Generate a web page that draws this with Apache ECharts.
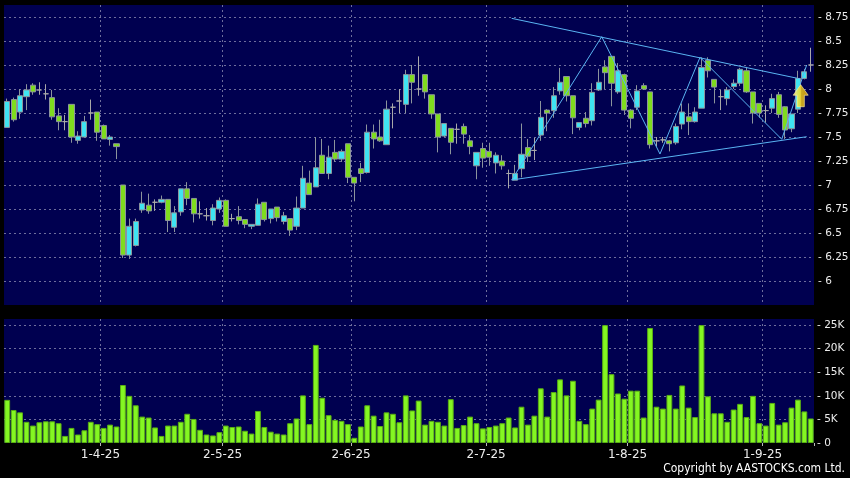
<!DOCTYPE html>
<html>
<head>
<meta charset="utf-8">
<script src="https://cdn.jsdelivr.net/npm/echarts@6.0.0/dist/echarts.min.js"></script>
<style>
html,body{margin:0;padding:0;background:#000;}
#c{width:850px;height:478px;}
</style>
</head>
<body>
<div id="c"></div>
<script>
// ---- trading calendar (HK) ----
const firstTradingDay = '2025-03-11';
const tradingDayCount = 126;
const holidays = ['2025-04-04','2025-04-18','2025-04-21','2025-05-01','2025-05-05','2025-07-01'];

// ---- price data (per trading day) ----
const opens = [
 7.60,7.89,7.76,7.92,8.04,7.99,7.95,7.91,7.72,7.66,
 7.84,7.465,7.50,7.75,7.76,7.62,7.475,7.43,7.00,6.27,
 6.37,6.74,6.79,6.82,6.82,6.85,6.56,6.72,6.96,6.86,
 6.70,6.68,6.63,6.75,6.84,6.65,6.67,6.64,6.57,6.58,
 6.82,6.65,6.77,6.62,6.65,6.57,6.76,7.02,6.98,7.31,
 7.12,7.34,7.27,7.43,7.08,7.17,7.13,7.55,7.50,7.42,
 7.81,7.875,7.84,8.15,8.00,8.15,7.94,7.74,7.51,7.59,
 7.58,7.61,7.46,7.20,7.38,7.35,7.23,7.25,7.12,7.05,
 7.17,7.39,7.36,7.52,7.78,7.775,7.98,8.13,7.93,7.60,
 7.695,7.67,7.99,8.23,8.34,7.97,8.15,7.78,7.81,8.035,
 7.97,7.46,7.47,7.46,7.44,7.635,7.71,7.66,7.80,8.30,
 8.10,7.92,7.90,8.025,8.06,8.19,7.97,7.85,7.775,7.80,
 7.94,7.815,7.586,7.79,8.11,8.25
];
const closes = [
 7.87,7.68,7.93,7.99,7.97,7.99,7.95,7.71,7.66,7.66,
 7.50,7.51,7.66,7.75,7.55,7.48,7.50,7.40,6.27,6.57,
 6.62,6.81,6.73,6.82,6.85,6.63,6.71,6.96,6.86,6.70,
 6.70,6.68,6.76,6.84,6.57,6.65,6.63,6.59,6.59,6.80,
 6.64,6.75,6.66,6.68,6.53,6.76,7.07,6.90,7.18,7.12,
 7.29,7.27,7.35,7.08,7.02,7.12,7.55,7.48,7.46,7.79,
 7.81,7.875,8.15,8.07,8.00,7.97,7.74,7.50,7.64,7.445,
 7.58,7.53,7.40,7.34,7.28,7.29,7.31,7.20,7.12,7.12,
 7.32,7.30,7.36,7.705,7.75,7.93,8.07,7.93,7.70,7.65,
 7.64,7.965,8.07,8.17,8.06,8.19,7.78,7.695,7.98,8.00,
 7.42,7.46,7.47,7.43,7.61,7.76,7.66,7.76,8.225,8.19,
 8.02,7.92,7.99,8.06,8.205,7.97,7.75,7.75,7.775,7.90,
 7.735,7.573,7.74,8.11,8.18,8.25
];
const lows = [
 7.60,7.66,7.69,7.78,7.94,7.94,7.89,7.68,7.57,7.57,
 7.44,7.43,7.50,7.68,7.46,7.48,7.41,7.27,6.24,6.23,
 6.36,6.71,6.70,6.73,6.81,6.51,6.51,6.68,6.79,6.61,
 6.65,6.63,6.58,6.71,6.57,6.62,6.59,6.55,6.54,6.58,
 6.62,6.60,6.62,6.59,6.47,6.53,6.76,6.90,6.98,7.12,
 7.06,7.24,7.24,7.02,6.83,7.03,7.12,7.38,7.45,7.42,
 7.59,7.75,7.75,7.85,7.93,7.90,7.69,7.34,7.50,7.32,
 7.43,7.43,7.32,7.06,7.18,7.20,7.12,7.16,6.965,7.05,
 7.08,7.24,7.26,7.46,7.56,7.70,7.94,7.87,7.53,7.57,
 7.60,7.62,7.98,8.00,7.82,7.95,7.73,7.59,7.78,7.99,
 7.38,7.40,7.44,7.35,7.42,7.58,7.52,7.65,7.80,8.12,
 7.85,7.78,7.83,8.00,8.03,7.96,7.64,7.70,7.65,7.75,
 7.70,7.48,7.55,7.75,8.10,8.18
];
const highs = [
 7.90,7.91,8.00,8.05,8.06,8.07,8.05,7.99,7.80,7.73,
 7.84,7.56,7.72,7.89,7.76,7.63,7.52,7.43,7.00,6.65,
 6.65,6.93,6.91,6.85,6.89,6.85,6.78,6.96,7.03,6.86,
 6.83,6.76,6.80,6.87,6.85,6.70,6.78,6.64,6.59,6.86,
 6.82,6.75,6.77,6.72,6.65,6.88,7.20,7.15,7.50,7.48,
 7.41,7.47,7.37,7.43,7.08,7.23,7.63,7.63,7.68,7.88,
 7.85,8.00,8.20,8.25,8.34,8.15,7.94,7.74,7.64,7.59,
 7.64,7.64,7.52,7.34,7.44,7.44,7.34,7.31,7.16,7.21,
 7.64,7.48,7.49,7.875,7.79,8.02,8.22,8.13,7.93,7.65,
 7.76,8.06,8.21,8.30,8.34,8.27,8.16,7.79,8.04,8.06,
 7.97,7.50,7.50,7.47,7.64,7.85,7.85,7.81,8.33,8.33,
 8.10,7.99,8.02,8.10,8.22,8.23,7.97,7.85,7.83,7.95,
 7.97,7.82,7.74,8.19,8.21,8.43
];
// volume in thousands of shares
const volumes = [
 9.15,7.0,6.5,4.5,3.7,4.4,4.6,4.6,4.2,1.5,
 3.2,1.8,2.7,4.5,4.0,3.2,3.9,3.5,12.3,10.0,
 8.0,5.6,5.4,3.3,1.5,3.7,3.7,4.5,6.2,5.1,
 2.8,1.8,1.6,2.3,3.7,3.4,3.5,2.6,2.0,6.8,
 3.4,2.4,2.0,1.8,4.2,5.2,10.1,4.0,20.8,9.6,
 5.9,4.9,4.7,4.0,1.1,3.5,8.0,5.8,3.6,6.5,
 6.2,4.4,10.1,6.9,9.0,3.9,4.7,4.5,3.7,9.3,
 3.2,3.8,5.6,4.2,3.1,3.4,3.7,4.2,5.4,3.3,
 7.7,3.9,5.8,11.6,5.6,10.8,13.5,10.1,13.2,4.7,
 4.0,7.3,9.2,25.0,14.6,10.5,9.4,11.1,11.1,5.4,
 24.4,7.7,7.3,10.2,7.3,12.2,7.5,5.5,25.0,9.9,
 6.3,6.3,4.5,7.1,8.3,5.5,10.0,4.2,3.7,8.5,
 3.9,4.4,7.5,9.2,6.7,5.2
];

// ---- drawn pattern lines: [trading-day index, price] ----
const upperTrend = [[78.47, 8.736], [123.32, 8.106]];
const lowerTrend = [[78.47, 7.052], [124.36, 7.503]];
const zigzag = [[78.47, 7.052], [92.48, 8.545], [101.54, 7.323], [107.77, 8.330], [120.48, 7.476], [124.36, 8.25]];
const arrowPoint = [[123.43, 7.93]];

// ---- axis ticks ----
const priceMin = 5.75, priceMax = 8.875, priceStep = 0.25;
const volMin = 0, volMax = 26.3, volStep = 5;

function buildDates() {
  const out = [];
  const hol = new Set(holidays);
  const p = firstTradingDay.split('-').map(Number);
  let d = new Date(Date.UTC(p[0], p[1] - 1, p[2]));
  while (out.length < tradingDayCount) {
    const wd = d.getUTCDay();
    const iso = d.toISOString().slice(0, 10);
    if (wd !== 0 && wd !== 6 && !hol.has(iso)) {
      out.push(d.getUTCDate() + '-' + (d.getUTCMonth() + 1) + '-' + String(d.getUTCFullYear()).slice(2));
    }
    d = new Date(d.getTime() + 86400000);
  }
  return out;
}
const dates = buildDates();
const monthStarts = [];
for (let i = 1; i < dates.length; i++) {
  if (dates[i].split('-')[1] !== dates[i - 1].split('-')[1]) monthStarts.push(i);
}
const isMonthStart = (idx) => monthStarts.indexOf(idx) >= 0;

const ohlc = opens.map((o, i) => [o, closes[i], lows[i], highs[i]]);

const NAVY = '#000050';
const GRIDC = '#6e6e9c';
const TXT = '#ececec';
const FONT = 'DejaVu Sans';
const CLEAR = 'rgba(0,0,0,0)';

const vColors = monthStarts.map(() => GRIDC).concat([CLEAR]);
const nPriceLines = Math.round((8.75 - priceMin) / priceStep) + 2;
const pColors = [];
for (let i = 0; i < nPriceLines; i++) pColors.push(i === 0 || i === nPriceLines - 1 ? CLEAR : GRIDC);
const volColors = [CLEAR, GRIDC, GRIDC, GRIDC, GRIDC, GRIDC, CLEAR];

const chart = echarts.init(document.getElementById('c'), null, {renderer: 'canvas'});
const lineStyleTrend = {color: '#5ab4f2', width: 1};

chart.setOption({
  backgroundColor: '#000',
  animation: false,
  grid: [
    {left: 4, right: 36, top: 5, height: 300, show: true, backgroundColor: NAVY, borderWidth: 0, outerBoundsMode: 'none'},
    {left: 4, right: 36, top: 319, height: 124, show: true, backgroundColor: NAVY, borderWidth: 0, outerBoundsMode: 'none'}
  ],
  xAxis: [
    {type: 'category', gridIndex: 0, data: dates, boundaryGap: true,
     axisLine: {show: false}, axisTick: {show: false}, axisLabel: {show: false},
     splitLine: {show: true, interval: isMonthStart, lineStyle: {type: [2, 3], color: vColors, width: 1}}},
    {type: 'category', gridIndex: 1, data: dates, boundaryGap: true, offset: 3,
     axisLine: {show: false},
     axisTick: {show: true, interval: isMonthStart, length: 3, lineStyle: {color: '#bbbbbb'}},
     axisLabel: {show: true, interval: isMonthStart, color: TXT, fontSize: 12, fontFamily: FONT, margin: 3, padding: [0, 6.4, 0, 0]},
     splitLine: {show: true, interval: isMonthStart, lineStyle: {type: [2, 3], color: vColors, width: 1}}},
    {type: 'value', gridIndex: 0, min: -0.5, max: tradingDayCount - 0.5, show: false}
  ],
  yAxis: [
    {type: 'value', gridIndex: 0, position: 'right', min: priceMin, max: priceMax, interval: priceStep,
     axisLine: {show: false}, axisTick: {show: false},
     axisLabel: {margin: 4, color: TXT, fontSize: 10.5, fontFamily: FONT,
       formatter: function (v) {
         const q = v / priceStep;
         if (Math.abs(q - Math.round(q)) > 1e-6 || v < 5.99 || v > 8.76) return '';
         return '- ' + (+v.toFixed(2));
       }},
     splitLine: {show: true, lineStyle: {type: [2, 3], color: pColors, width: 1}}},
    {type: 'value', gridIndex: 1, position: 'right', min: volMin, max: volMax, interval: volStep,
     axisLine: {show: false}, axisTick: {show: false},
     axisLabel: {margin: 3, color: TXT, fontSize: 10.5, fontFamily: FONT,
       formatter: function (v) {
         if (Math.abs(v / volStep - Math.round(v / volStep)) > 1e-6) return '';
         return '- ' + (v === 0 ? '0' : v + 'K');
       }},
     splitLine: {show: true, lineStyle: {type: [2, 3], color: volColors, width: 1}}}
  ],
  series: [
    {type: 'candlestick', xAxisIndex: 0, yAxisIndex: 0, data: ohlc, barWidth: 5.6,
     itemStyle: {color: '#3fe4f2', color0: '#7fdc1e', borderColor: '#8c949c', borderColor0: '#8c949c', borderColorDoji: '#a8a8a8', borderWidth: 1}},
    {type: 'bar', xAxisIndex: 1, yAxisIndex: 1, data: volumes, barWidth: 5.8,
     itemStyle: {color: '#84f622', borderColor: '#5aae14', borderWidth: 1}},
    {type: 'line', xAxisIndex: 2, yAxisIndex: 0, data: upperTrend, symbol: 'none', lineStyle: lineStyleTrend, silent: true},
    {type: 'line', xAxisIndex: 2, yAxisIndex: 0, data: lowerTrend, symbol: 'none', lineStyle: lineStyleTrend, silent: true},
    {type: 'line', xAxisIndex: 2, yAxisIndex: 0, data: zigzag, symbol: 'none', lineStyle: lineStyleTrend, silent: true},
    {type: 'scatter', xAxisIndex: 2, yAxisIndex: 0, data: arrowPoint, silent: true, z: 5,
     symbol: 'path://M7,0L14,10L10.4,10L10.4,21L3.6,21L3.6,10L0,10Z', symbolSize: [15, 22],
     itemStyle: {
       color: new echarts.graphic.LinearGradient(0, 0, 1, 0, [
         {offset: 0, color: '#fff8a0'}, {offset: 0.4, color: '#ffe41e'}, {offset: 1, color: '#f2aa00'}]),
       borderColor: '#fff0a0', borderWidth: 0.8}}
  ],
  graphic: [
    {type: 'text', right: 5, top: 463,
     style: {text: 'Copyright by AASTOCKS.com Ltd.', fill: '#ffffff',
       font: '12px "DejaVu Sans Condensed", "Liberation Sans Narrow", sans-serif'}}
  ]
});
</script>
</body>
</html>
